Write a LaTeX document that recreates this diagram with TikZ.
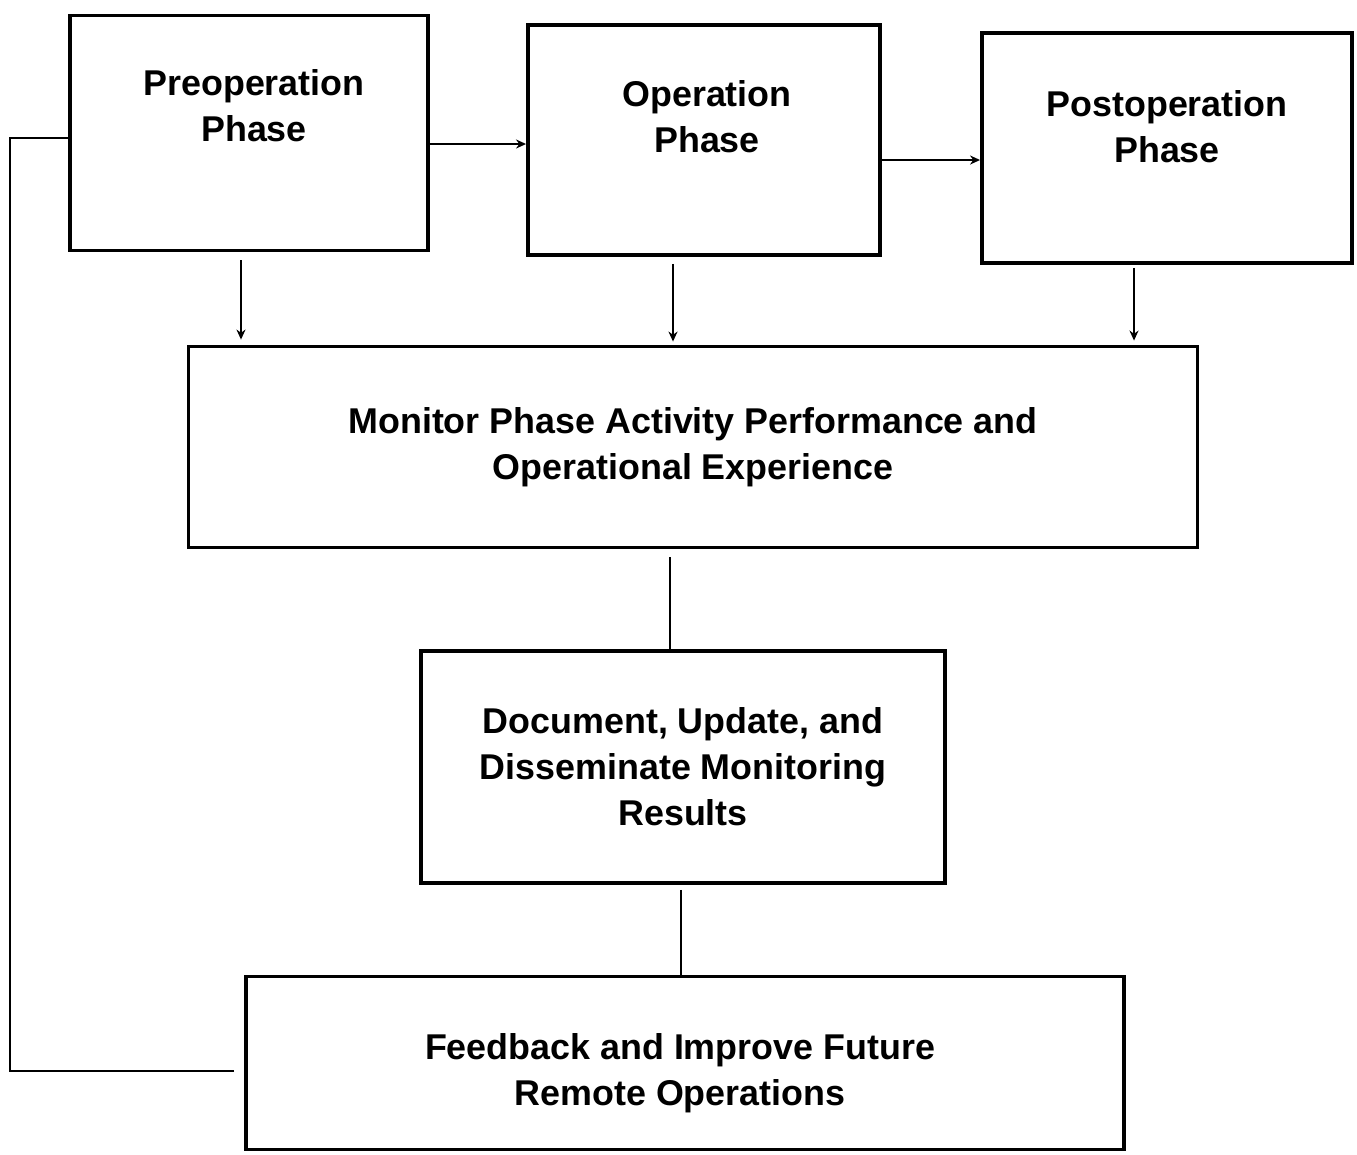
\documentclass[tikz,border=0pt]{standalone}
\usepackage{fontspec}
\setmainfont{Liberation Sans}
\usetikzlibrary{positioning, arrows.meta}

\begin{document}
\begin{tikzpicture}[
      box/.style={draw, line width=1.1pt, inner sep=0pt},
      txt/.style={align=center, font=\fontsize{10.2}{13.1}\selectfont\bfseries},
      arr/.style={-{Stealth[length=1.0mm, width=0.9mm]}, line width=0.8pt},
      lnk/.style={line width=0.8pt},
    ]
    \useasboundingbox (0,0) rectangle (13.57,-11.54);

    % Phase boxes (top row)
    \node[box, minimum width=3.58cm, minimum height=2.35cm] (pre) at (2.49,-1.33) {};
    \node[box, minimum width=3.52cm, minimum height=2.30cm] (op) at (7.04,-1.40) {};
    \node[box, minimum width=3.70cm, minimum height=2.30cm] (post) at (11.67,-1.48) {};
    \node[txt] (preT) at (2.54,-1.06) {Preoperation\\Phase};
    \node[txt] (opT) at (7.07,-1.17) {Operation\\Phase};
    \node[txt] (postT) at (11.67,-1.27) {Postoperation\\Phase};

    % Monitoring and follow-up boxes
    \node[box, txt, minimum width=10.09cm, minimum height=2.01cm] (mon) at (6.93,-4.47)
      {Monitor Phase Activity Performance and\\Operational Experience};
    \node[box, txt, minimum width=5.24cm, minimum height=2.32cm] (doc) at (6.83,-7.67)
      {Document, Update, and\\Disseminate Monitoring\\Results};
    \node[box, minimum width=8.78cm, minimum height=1.73cm] (fb) at (6.85,-10.63) {};
    \node[txt] (fbT) at (6.80,-10.73) {Feedback and Improve Future\\Remote Operations};

    % Phase sequence
    \draw[arr] (pre.east |- 0,-1.44) -- (op.west |- 0,-1.44);
    \draw[arr] (op.east |- 0,-1.60) -- (post.west |- 0,-1.60);

    % Phases to monitoring
    \draw[arr, shorten <=0.08cm, shorten >=0.05cm] (pre.south -| 2.41,0) -- (mon.north -| 2.41,0);
    \draw[arr, shorten <=0.07cm, shorten >=0.03cm] (op.south -| 6.73,0) -- (mon.north -| 6.73,0);
    \draw[arr, shorten <=0.03cm, shorten >=0.04cm] (post.south -| 11.34,0) -- (mon.north -| 11.34,0);

    % Monitoring chain
    \draw[lnk, shorten <=0.08cm] (mon.south -| 6.70,0) -- (doc.north -| 6.70,0);
    \draw[lnk, shorten <=0.05cm] (doc.south -| 6.81,0) -- (fb.north -| 6.81,0);

    % Feedback loop
    \coordinate (loop) at (0.10,-10.71);
    \draw[lnk] ([xshift=-0.10cm]fb.west |- loop) -- (loop) |- (pre.west |- 0,-1.38);
  \end{tikzpicture}
\end{document}
